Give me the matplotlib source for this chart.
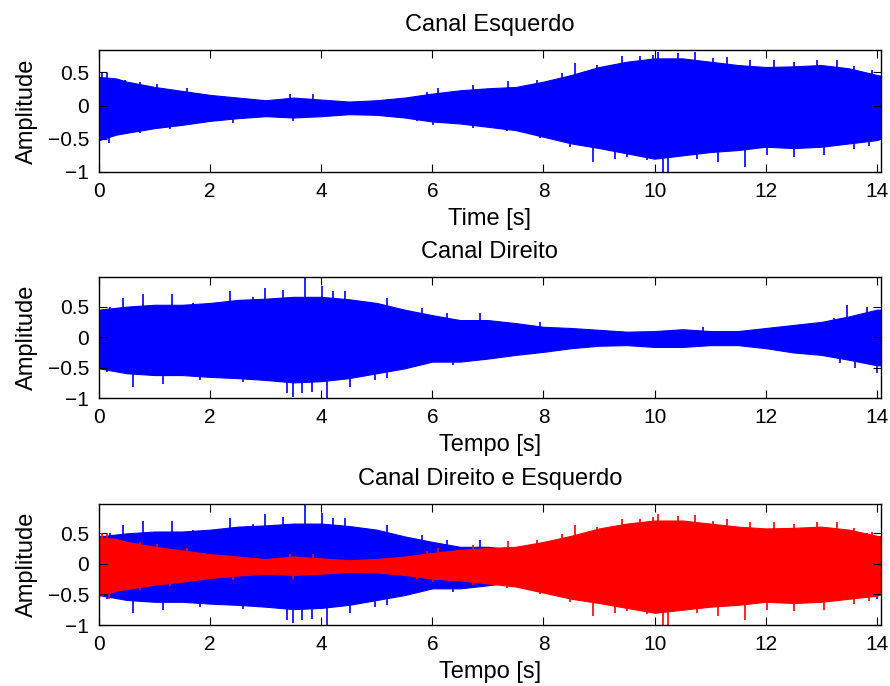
import matplotlib
matplotlib.use("Agg")
import matplotlib.pyplot as plt

# envelope of the left channel, seconds / amplitude
left_t = [0, 0.3, 0.5, 1, 1.5, 2, 2.5, 3, 3.5, 4, 4.5, 5, 5.5, 6, 6.5, 7, 7.5,
          8, 8.5, 9, 9.5, 10, 10.5, 11, 11.5, 12, 12.5, 13, 13.5, 14, 14.07]
left_upper = [0.43, 0.41, 0.36, 0.28, 0.22, 0.16, 0.12, 0.08, 0.12, 0.09, 0.06,
              0.08, 0.12, 0.18, 0.23, 0.26, 0.28, 0.36, 0.46, 0.58, 0.66, 0.71,
              0.71, 0.66, 0.61, 0.58, 0.59, 0.61, 0.56, 0.46, 0.45]
left_lower = [-0.52, -0.44, -0.41, -0.34, -0.29, -0.23, -0.19, -0.16, -0.18,
              -0.16, -0.13, -0.14, -0.18, -0.24, -0.27, -0.32, -0.37, -0.47,
              -0.57, -0.64, -0.72, -0.80, -0.75, -0.70, -0.67, -0.62, -0.64,
              -0.62, -0.57, -0.52, -0.50]
# isolated peaks of the left channel
left_peak_t = [0.05, 0.14, 0.47, 0.74, 1.04, 1.58, 1.91, 3.44, 3.86, 5.9, 6.11,
               6.74, 7.37, 7.88, 8.33, 8.56, 8.96, 9.41, 9.74, 9.98, 10.07,
               10.43, 10.73, 11.06, 11.3, 11.72, 12.14, 12.5, 12.92, 13.28,
               13.58, 13.91,
               0.18, 0.74, 1.28, 2.42, 3.5, 5.72, 6.02, 6.74, 7.34, 7.94, 8.48,
               8.90, 9.29, 9.50, 9.86, 10.16, 10.25, 10.76, 11.15, 11.63, 12.02,
               12.5, 13.04, 13.58, 13.85]
left_peak_v = [0.51, 0.49, 0.38, 0.36, 0.33, 0.26, 0.18, 0.17, 0.17, 0.21, 0.26,
               0.31, 0.37, 0.39, 0.49, 0.64, 0.61, 0.74, 0.74, 0.76, 0.81,
               0.79, 0.80, 0.71, 0.73, 0.68, 0.69, 0.66, 0.69, 0.69,
               0.59, 0.53,
               -0.57, -0.42, -0.36, -0.27, -0.24, -0.24, -0.29, -0.34, -0.39,
               -0.49, -0.62, -0.85, -0.80, -0.77, -0.82, -1.0, -1.0, -0.80,
               -0.85, -0.92, -0.75, -0.77, -0.75, -0.65, -0.61]

# envelope of the right channel
right_t = [0, 0.5, 1, 1.5, 2, 2.5, 3, 3.5, 4, 4.5, 5, 5.5, 6, 6.5, 7, 7.5, 8,
           8.5, 9, 9.5, 10, 10.5, 11, 11.5, 12, 12.5, 13, 13.5, 14, 14.07]
right_upper = [0.45, 0.50, 0.53, 0.53, 0.56, 0.61, 0.63, 0.66, 0.66, 0.62, 0.56,
               0.45, 0.36, 0.28, 0.28, 0.23, 0.17, 0.15, 0.12, 0.09, 0.10, 0.13,
               0.10, 0.10, 0.15, 0.20, 0.25, 0.34, 0.45, 0.45]
right_lower = [-0.51, -0.59, -0.62, -0.62, -0.65, -0.67, -0.70, -0.74, -0.72,
               -0.67, -0.59, -0.51, -0.40, -0.40, -0.35, -0.29, -0.24, -0.18,
               -0.14, -0.13, -0.16, -0.16, -0.13, -0.13, -0.18, -0.25, -0.29,
               -0.37, -0.46, -0.46]
right_peak_t = [0.20, 0.44, 0.80, 1.31, 1.70, 2.36, 2.78, 2.99, 3.32, 3.71,
                4.01, 4.22, 4.43, 5.18, 5.81, 6.26, 6.86, 7.94, 10.88, 12.86,
                13.22, 13.47, 13.82,
                0.14, 0.62, 1.16, 1.82, 2.60, 3.38, 3.50, 3.65, 3.83, 4.10,
                4.52, 4.97, 5.18, 6.38, 6.89, 13.34, 13.6, 14.01]
right_peak_v = [0.50, 0.64, 0.70, 0.71, 0.56, 0.75, 0.66, 0.81, 0.77, 0.975,
                0.83, 0.75, 0.75, 0.64, 0.47, 0.39, 0.39, 0.25, 0.17, 0.23,
                0.32, 0.52, 0.50,
                -0.57, -0.81, -0.76, -0.70, -0.73, -0.92, -0.975, -0.92, -0.90,
                -1.0, -0.81, -0.70, -0.67, -0.46, -0.37, -0.43, -0.51, -0.58]

titles = ["Canal Esquerdo", "Canal Direito", "Canal Direito e Esquerdo"]
xlabels = ["Time [s]", "Tempo [s]", "Tempo [s]"]
ylims = [(-1.0, 0.836), (-1.0, 0.98), (-1.0, 0.98)]
xticks = [0, 2, 4, 6, 8, 10, 12, 14]
yticks = [-1, -0.5, 0, 0.5]

plt.rcParams['font.family'] = ['Liberation Sans', 'DejaVu Sans']

BLUE = '#0000ff'
RED = '#ff0000'


def draw_channel(ax, t, up, lo, pk_t, pk_v, color, z):
    ax.fill_between(t, lo, up, color=color, linewidth=0.8, edgecolor=color,
                    zorder=z)
    ax.vlines(pk_t, 0, pk_v, color=color, linewidth=1.2, zorder=z + 0.1)


fig = plt.figure(figsize=(8.9, 6.86), dpi=100)
boxes = [[0.1112, 0.7493, 0.8784, 0.1778],
         [0.1112, 0.4194, 0.8784, 0.1764],
         [0.1112, 0.0889, 0.8784, 0.1764]]

for i, box in enumerate(boxes):
    ax = fig.add_axes(box)
    if i == 0:
        draw_channel(ax, left_t, left_upper, left_lower,
                     left_peak_t, left_peak_v, BLUE, 1)
    elif i == 1:
        draw_channel(ax, right_t, right_upper, right_lower,
                     right_peak_t, right_peak_v, BLUE, 1)
    else:
        draw_channel(ax, right_t, right_upper, right_lower,
                     right_peak_t, right_peak_v, BLUE, 1)
        draw_channel(ax, left_t, left_upper, left_lower,
                     left_peak_t, left_peak_v, RED, 1.5)

    ax.set_xlim(0, 14.07)
    ax.set_ylim(*ylims[i])
    ax.set_xticks(xticks)
    ax.set_yticks(yticks)
    ax.set_yticklabels(['\u22121', '\u22120.5', '0', '0.5'])
    ax.tick_params(direction='in', top=True, right=True, length=5.5,
                   width=0.8, labelsize=15, pad=7)
    for s in ax.spines.values():
        s.set_linewidth(1.0)
        s.set_zorder(3)
    ax.set_title(titles[i], fontsize=17, pad=14)
    ax.set_xlabel(xlabels[i], fontsize=17, labelpad=5)
    ax.set_ylabel('Amplitude', fontsize=17, labelpad=7)

fig.savefig('out.png', dpi=100)
